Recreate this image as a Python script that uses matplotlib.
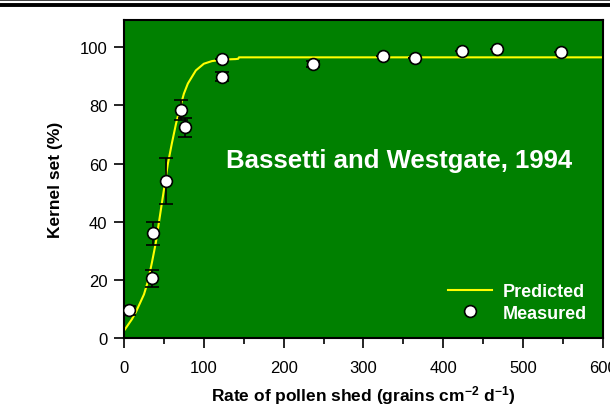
import matplotlib
matplotlib.use("Agg")
import matplotlib.pyplot as plt
from matplotlib.lines import Line2D

plt.rcParams['font.family'] = ['Liberation Sans', 'DejaVu Sans']
plt.rcParams['mathtext.fontset'] = 'custom'
plt.rcParams['mathtext.rm'] = 'Liberation Sans:bold'
plt.rcParams['mathtext.default'] = 'rm'

# Measured kernel set with standard errors
meas_x = [6, 35, 36, 53, 71, 77, 123, 123, 237, 325, 365, 424, 467, 547]
meas_y = [9.5, 20.5, 36, 54, 78.5, 72.5, 96, 89.8, 94.3, 97, 96.2, 98.6, 99.2, 98.4]
meas_err = [1.5, 3, 4, 8, 3.5, 3.3, 0, 1.5, 1.0, 0, 0, 0, 0, 0]

# Predicted response curve
pred_x = [0, 5, 10, 15, 20, 25, 30, 35, 40, 45, 50, 55, 60, 65, 70, 75, 80, 90,
          100, 110, 120, 130, 140, 143, 144, 200, 300, 400, 500, 600]
pred_y = [2.5, 4.5, 6.5, 9, 12, 15, 19.5, 26, 33, 42, 51, 60, 67, 73.5, 79, 84,
          87.5, 92, 94.3, 95.2, 95.6, 95.8, 95.9, 96, 96.5, 96.5, 96.5, 96.5, 96.5, 96.5]

x_ticks = [0, 100, 200, 300, 400, 500, 600]
y_ticks = [0, 20, 40, 60, 80, 100]

fig = plt.figure(figsize=(6.10, 4.06), dpi=100)
ax = fig.add_axes([0.2033, 0.165, 0.7852, 0.783])
ax.set_facecolor('#008000')

ax.plot(pred_x, pred_y, color='#FFFF00', lw=1.5, zorder=2, label='Predicted')
ax.errorbar(meas_x, meas_y, yerr=meas_err, fmt='none', ecolor='black',
            elinewidth=1.2, capsize=5, capthick=1.2, zorder=3)
ax.plot(meas_x, meas_y, 'o', ms=8.5, mfc='white', mec='black', mew=1.2,
        ls='none', zorder=4, label='Measured')

ax.set_xlim(0, 600)
ax.set_ylim(0, 109.3)
ax.set_xticks(x_ticks)
ax.set_xticks([50, 150, 250, 350, 450, 550], minor=True)
ax.set_yticks(y_ticks)
ax.tick_params(axis='both', which='major', direction='out', length=7, width=1.2,
               labelsize=12, color='black')
ax.tick_params(axis='x', which='major', pad=9)
ax.tick_params(axis='y', which='major', pad=5)
ax.tick_params(axis='x', which='minor', direction='out', length=4.5, width=1.2)
for s in ax.spines.values():
    s.set_linewidth(1.5)

ax.set_xlabel(r'Rate of pollen shed (grains cm$^{-2}$ d$^{-1}$)',
              fontsize=12.5, fontweight='bold', labelpad=6)
ax.set_ylabel('Kernel set (%)', fontsize=12.5, fontweight='bold', labelpad=12)

ax.text(0.575, 0.56, 'Bassetti and Westgate, 1994', transform=ax.transAxes,
        color='white', fontsize=18.5, fontweight='bold', ha='center', va='center')

leg = ax.legend(loc='lower right', frameon=False,
                prop={'weight': 'bold', 'size': 13}, labelcolor='white',
                handlelength=2.4, handletextpad=0.6, borderaxespad=0.5,
                labelspacing=0.25)

# Double rule across the top of the page
fig.add_artist(Line2D([0, 1], [1 - 1.2 / 406, 1 - 1.2 / 406], color='#222222',
                      lw=1.2, transform=fig.transFigure))
fig.add_artist(Line2D([0, 1], [1 - 5.8 / 406, 1 - 5.8 / 406], color='black',
                      lw=2.8, transform=fig.transFigure))

fig.savefig('out.png', dpi=100)
